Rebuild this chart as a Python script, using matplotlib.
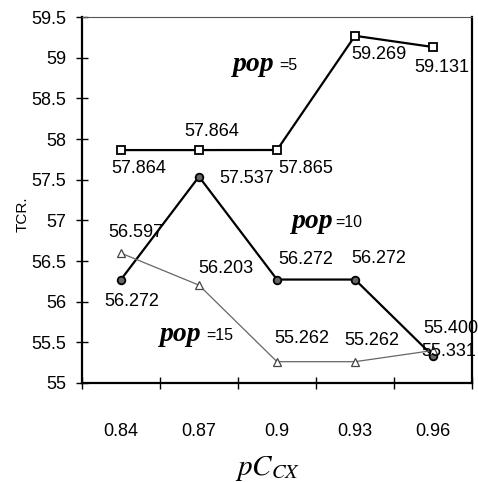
import matplotlib

matplotlib.use("Agg")
import matplotlib.pyplot as plt

categories = ["0.84", "0.87", "0.9", "0.93", "0.96"]
pop5 = [57.864, 57.864, 57.865, 59.269, 59.131]
pop10 = [56.272, 57.537, 56.272, 56.272, 55.331]
pop15 = [56.597, 56.203, 55.262, 55.262, 55.400]

# label offsets (points) for each data label
off5 = [(13, -13), (9.5, 13.5), (21, -13.5), (17, -13.5), (6.5, -15)]
off10 = [(8, -16), (34.5, -1.5), (21, 14.5), (17, 15.5), (11.5, 3)]
off15 = [(11, 15), (19.5, 12), (18, 16.5), (12, 15), (13, 16)]

plt.rcParams["font.family"] = ["Liberation Sans", "DejaVu Sans"]
plt.rcParams["mathtext.fontset"] = "stix"

fig = plt.figure(figsize=(4.78, 4.82), dpi=100)
ax = fig.add_axes([0.1715, 0.2054, 0.816, 0.7593])

x = list(range(len(categories)))
ax.plot(x, pop5, color="black", lw=1.6, marker="s", ms=6, mfc="white", mec="black", mew=1.3)
ax.plot(x, pop10, color="black", lw=1.6, marker="o", ms=5.5, mfc="#666666", mec="black", mew=1.3)
ax.plot(x, pop15, color="#666666", lw=0.9, marker="^", ms=6, mfc="white", mec="#444444", mew=0.9)

for vals, offs in [(pop5, off5), (pop10, off10), (pop15, off15)]:
    for xi, (v, o) in enumerate(zip(vals, offs)):
        ax.annotate(f"{v:.3f}", (xi, v), xytext=o, textcoords="offset points",
                    ha="center", va="center", fontsize=13)


def pop_label(xp, yp, dx, num):
    ax.text(xp, yp, "pop", transform=ax.transAxes, fontsize=20, style="italic",
            fontweight="bold", family="Liberation Serif", va="baseline")
    ax.text(xp + dx, yp + 0.002, "=" + num, transform=ax.transAxes, fontsize=11.5,
            va="baseline")


pop_label(0.387, 0.852, 0.12, "5")
pop_label(0.538, 0.423, 0.112, "10")
pop_label(0.2, 0.115, 0.118, "15")

ax.set_xlim(-0.5, 4.5)
ax.set_ylim(55, 59.5)
ax.set_yticks([55 + 0.5 * i for i in range(10)])
ax.set_yticklabels([f"{55 + 0.5 * i:g}" for i in range(10)], fontsize=13)
ax.set_xticks([i - 0.5 for i in range(6)])
ax.set_xticklabels([])
ax.set_xticks(x, minor=True)
ax.set_xticklabels(categories, minor=True, fontsize=13)
ax.tick_params(axis="x", which="minor", length=0, pad=29)
ax.tick_params(axis="both", which="major", direction="inout", length=9, width=1)
ax.tick_params(axis="y", pad=7)

for s in ["left", "bottom", "right"]:
    ax.spines[s].set_linewidth(1.6)
ax.spines["top"].set_linewidth(0.8)
ax.spines["top"].set_color("#555555")

ax.set_ylabel("TCR.", fontsize=11)
ax.yaxis.set_label_coords(-0.135, 0.46)
fig.text(0.56, -0.003, "$pC_{CX}$", fontsize=21, ha="center", va="bottom")

fig.savefig("out.png", dpi=100)
